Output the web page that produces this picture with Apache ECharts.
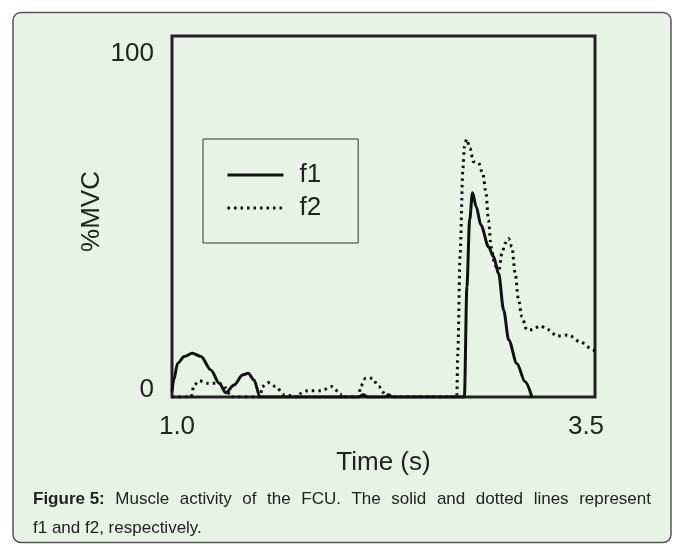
<!DOCTYPE html>
<html>
<head>
<meta charset="utf-8">
<script src="https://cdn.jsdelivr.net/npm/echarts@6/dist/echarts.min.js"></script>
<style>
  html, body { margin: 0; padding: 0; background: #ffffff; }
  #chart { width: 680px; height: 545px; }
</style>
</head>
<body>
<div id="chart"></div>
<script>
// time (s) and %MVC
var f1Time = [1.0, 1.01, 1.033, 1.072, 1.12, 1.171, 1.23, 1.279, 1.318, 1.367, 1.417, 1.45, 1.485, 1.52,
  2.10, 2.13, 2.16, 2.26, 2.28, 2.30, 2.728, 2.743, 2.759, 2.776, 2.798, 2.826, 2.871, 2.9, 2.93,
  2.96, 2.99, 3.038, 3.087, 3.127];
var f1Value = [1.5, 4.7, 9.3, 11.2, 12.1, 11.2, 7.5, 3.8, 1.2, 3.3, 6.1, 6.6, 4.7, 0,
  0, 0.6, 0, 0, 0.6, 0, 0, 30.6, 49, 56.6, 52.7, 47.6, 41.6, 38.9, 34.3,
  24.1, 15.8, 9.3, 4.2, 0];
var f2Time = [1.0, 1.112, 1.131, 1.161, 1.21, 1.279, 1.318, 1.348, 1.52, 1.534, 1.567, 1.613, 1.662, 1.75,
  1.76, 1.8, 1.879, 1.947, 1.996, 2.0, 2.104, 2.114, 2.144, 2.183, 2.222, 2.262, 2.28, 2.683,
  2.689, 2.703, 2.719, 2.728, 2.742, 2.761, 2.781, 2.811, 2.837, 2.856, 2.87, 2.886, 2.906, 2.93,
  2.95, 2.969, 2.989, 3.009, 3.028, 3.048, 3.068, 3.097, 3.127, 3.176, 3.225, 3.274, 3.343, 3.412,
  3.491, 3.5];
var f2Value = [0, 0, 3.3, 4.5, 3.8, 3.8, 2.5, 0, 0, 2.9, 4.0, 2.9, 0.6, 0,
  1.0, 1.7, 1.7, 2.9, 0.8, 0, 0, 2.9, 5.2, 5.2, 2.9, 0.6, 0, 0,
  12.1, 39.8, 62.9, 69.3, 71.4, 68.9, 65.2, 64.9, 61.9, 56.4, 49, 41.6, 37, 34.3,
  39.8, 42.6, 43.9, 41.6, 34.3, 26.9, 22.2, 18.6, 18.6, 19.7, 18.6, 16.9, 17.2, 15.3,
  13, 12.5];
var xTicks = ['1.0', '3.5'];
var yTicks = ['0', '100'];
var seriesNames = ['f1', 'f2'];
var captionBold = 'Figure 5:';
var captionLine1 = 'Muscle activity of the FCU. The solid and dotted lines represent';
var captionLine2 = 'f1 and f2, respectively.';

function pairs(ts, vs) {
  var out = [];
  for (var i = 0; i < ts.length; i++) out.push([ts[i], vs[i]]);
  return out;
}

var font = '"Liberation Sans", Arial, Helvetica, sans-serif';
var ink = '#222222';
var capSize = 17;

// the caption's first line is justified: work out the word gap
var ctx = document.createElement('canvas').getContext('2d');
var words = captionLine1.split(' ');
ctx.font = 'bold ' + capSize + 'px ' + font;
var used = ctx.measureText(captionBold).width;
ctx.font = capSize + 'px ' + font;
words.forEach(function (w) { used += ctx.measureText(w).width; });
var gap = (618 - used) / words.length;
var captionText = '{b|' + captionBold + '}' +
  words.map(function (w) { return '{s| }' + w; }).join('') +
  '\n' + captionLine2;

var chart = echarts.init(document.getElementById('chart'));

var option = {
  backgroundColor: 'transparent',
  animation: false,
  graphic: [
    {
      type: 'rect',
      z: -10,
      shape: { x: 13, y: 12.5, width: 658, height: 530, r: 8 },
      style: { fill: '#e8f2e7', stroke: '#555555', lineWidth: 1.5 }
    },
    {
      type: 'text',
      left: 33,
      top: 485,
      style: {
        text: captionText,
        fontFamily: font,
        fontSize: capSize,
        lineHeight: 29,
        fill: ink,
        rich: {
          b: { fontWeight: 'bold', fontSize: capSize, fontFamily: font, fill: ink, lineHeight: 29 },
          s: { width: gap, fontSize: capSize, fontFamily: font, lineHeight: 29 }
        }
      }
    }
  ],
  grid: {
    left: 172,
    top: 36,
    right: 85,
    bottom: 148,
    show: true,
    borderColor: ink,
    borderWidth: 3,
    backgroundColor: 'transparent'
  },
  legend: {
    orient: 'vertical',
    left: 203,
    top: 139,
    data: seriesNames,
    backgroundColor: 'transparent',
    borderColor: '#333333',
    borderWidth: 1,
    padding: [21, 37, 20, 23],
    itemWidth: 56,
    itemHeight: 30,
    itemGap: 3,
    itemStyle: { opacity: 0 },
    lineStyle: { width: 3 },
    textStyle: {
      fontFamily: font,
      fontSize: 26,
      color: ink,
      lineHeight: 30,
      padding: [0, 0, 0, 11]
    }
  },
  xAxis: {
    type: 'value',
    min: 1.0,
    max: 3.5,
    interval: 2.5,
    name: 'Time (s)',
    nameLocation: 'middle',
    nameGap: 53,
    nameMoveOverlap: false,
    nameTextStyle: { fontFamily: font, fontSize: 26, color: ink },
    axisLine: { show: false },
    axisTick: { show: false },
    splitLine: { show: false },
    axisLabel: {
      margin: 17,
      formatter: function (v) {
        var s = v.toFixed(1);
        return s === xTicks[0] ? '{l|' + s + '}' : '{r|' + s + '}';
      },
      rich: {
        l: { fontFamily: font, fontSize: 26, color: ink, padding: [0, 0, 0, 10] },
        r: { fontFamily: font, fontSize: 26, color: ink, padding: [0, 18, 0, 0] }
      }
    }
  },
  yAxis: {
    type: 'value',
    min: 0,
    max: 100,
    interval: 100,
    name: '%MVC',
    nameLocation: 'middle',
    nameGap: 67,
    nameMoveOverlap: false,
    nameTextStyle: { fontFamily: font, fontSize: 26, color: ink, padding: [0, 0, 0, 10] },
    axisLine: { show: false },
    axisTick: { show: false },
    splitLine: { show: false },
    axisLabel: {
      margin: 18,
      formatter: function (v) {
        var s = String(v);
        return s === yTicks[0] ? '{z|' + s + '}' : '{h|' + s + '}';
      },
      rich: {
        z: { fontFamily: font, fontSize: 26, color: ink, padding: [0, 0, 14, 0] },
        h: { fontFamily: font, fontSize: 26, color: ink, padding: [36, 0, 0, 0] }
      }
    }
  },
  series: [
    {
      name: seriesNames[0],
      type: 'line',
      data: pairs(f1Time, f1Value),
      smooth: 0.3,
      smoothMonotone: 'x',
      symbol: 'none',
      lineStyle: { color: '#111111', width: 3 },
      itemStyle: { color: '#111111' },
      z: 3
    },
    {
      name: seriesNames[1],
      type: 'line',
      data: pairs(f2Time, f2Value),
      smooth: 0.3,
      smoothMonotone: 'x',
      symbol: 'none',
      lineStyle: { color: '#111111', width: 3, type: [2.5, 4] },
      itemStyle: { color: '#111111' },
      z: 2
    }
  ]
};

chart.setOption(option);
</script>
</body>
</html>
